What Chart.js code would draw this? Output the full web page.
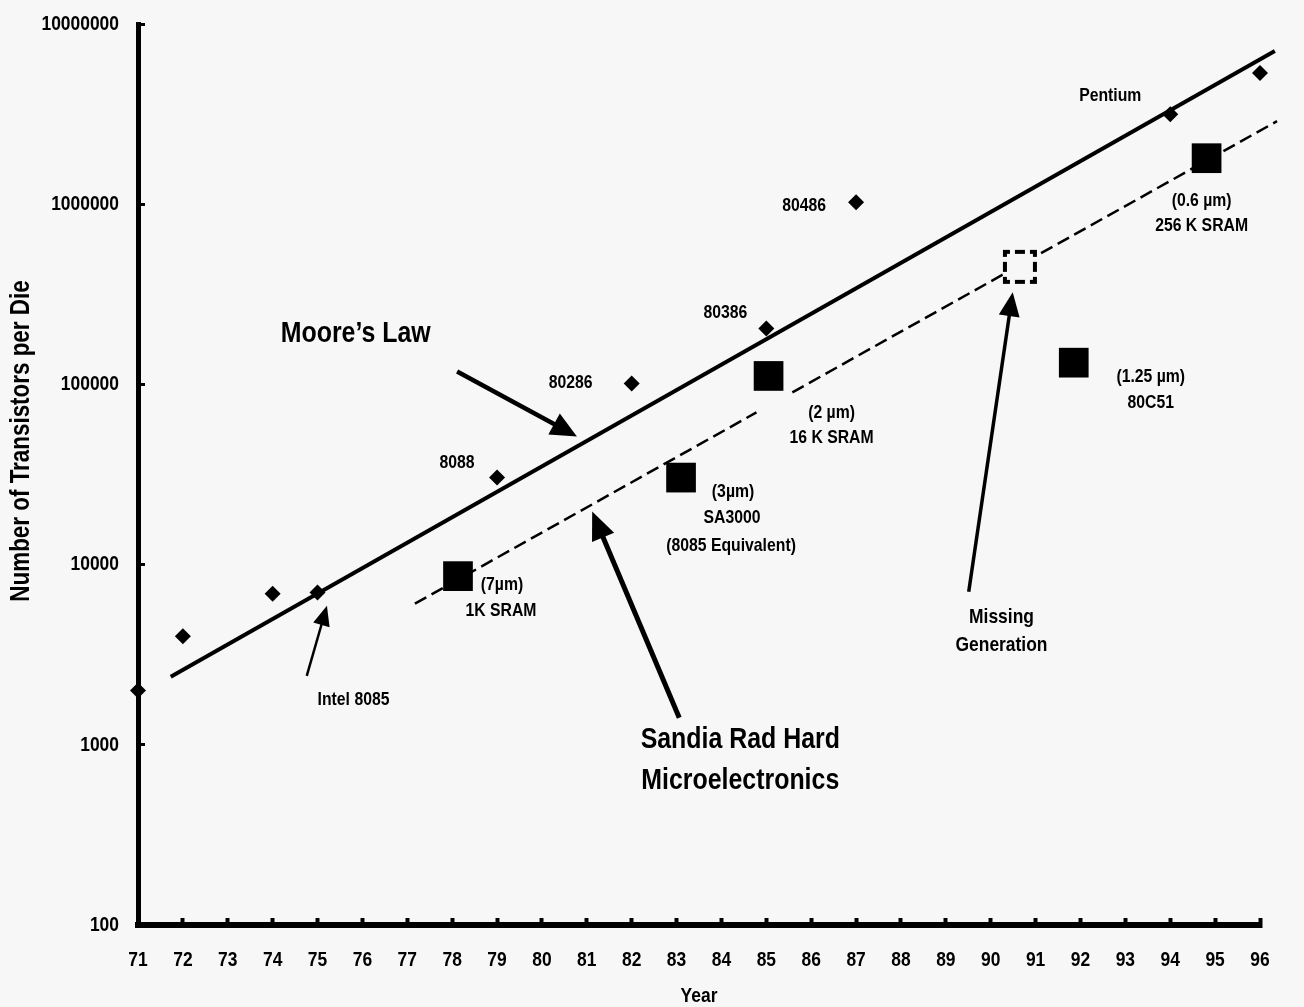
<!DOCTYPE html>
<html>
<head>
<meta charset="utf-8">
<script src="https://cdn.jsdelivr.net/npm/chart.js@4.4.1/dist/chart.umd.min.js"></script>
<style>
  html, body { margin: 0; padding: 0; background: #f7f7f7; }
  canvas { display: block; }
</style>
</head>
<body>
<canvas id="chart" width="1304" height="1007"></canvas>
<script>
// Intel microprocessors: year of introduction and transistors per die
const intelYears = [71, 72, 74, 75, 79, 82, 85, 87, 94, 96];
const intelTransistors = [2000, 4000, 6900, 7000, 30400, 101000, 204000, 1026000, 3160000, 5340000];
const intelNames = ['', '', '', 'Intel 8085', '8088', '80286', '80386', '80486', 'Pentium', ''];

// Sandia radiation-hardened parts
const sandiaYears = [78.13, 83.10, 85.05, 91.85, 94.81];
const sandiaTransistors = [8630, 30400, 111400, 132000, 1800000];
const sandiaFeature = ['(7µm)', '(3µm)', '(2 µm)', '(1.25 µm)', '(0.6 µm)'];
const sandiaNames = [['1K SRAM'], ['SA3000', '(8085 Equivalent)'], ['16 K SRAM'], ['80C51'], ['256 K SRAM']];

// the generation that was never built
const missingYears = [90.65];
const missingTransistors = [449000];

// trend lines
const mooreYears = [71.73, 96.33];
const mooreTransistors = [2386, 7080000];
const sandiaTrendYears = [77.17, 84.78, 85.2, 85.58, 96.38];
const sandiaTrendTransistors = [6070, 69900, null, 90300, 2890000];

// axis ticks
const yearTicks = [71, 72, 73, 74, 75, 76, 77, 78, 79, 80, 81, 82, 83, 84, 85, 86, 87, 88, 89, 90, 91, 92, 93, 94, 95, 96];
const decadeTicks = [100, 1000, 10000, 100000, 1000000, 10000000];

const FONT = "'Liberation Sans', Arial, sans-serif";
const BG = '#f7f7f7';
const CONDENSE = 0.83;   // horizontal squeeze giving a narrow bold face

// every text run is drawn condensed around its anchor point,
// so left / centre / right alignment keeps working
(function () {
  const proto = CanvasRenderingContext2D.prototype;
  const fill = proto.fillText;
  proto.fillText = function (text, x, y) {
    this.save();
    this.translate(x, y);
    this.scale(CONDENSE, 1);
    fill.call(this, text, 0, 0);
    this.restore();
  };
})();

// label placement (pixel offsets from the point they describe)
const intelLabelOffsets = { 3: [36, 107], 4: [-40, -15], 5: [-61, -1], 6: [-41, -16], 7: [-52, 4], 8: [-60, -18] };
const sandiaLabelOffsets = [
  [[44, 9], [43, 35]],
  [[52, 14], [51, 40], [50, 68]],
  [[63, 37], [63, 62]],
  [[77, 14], [77, 40]],
  [[-5, 43], [-5, 68]]
];

// free text and arrows, placed in data space: [year, log10(transistors)]
const notes = [
  { text: 'Moore’s Law', at: [74.18, 5.283], align: 'left', size: 30 },
  { text: 'Sandia Rad Hard', at: [84.42, 3.028], align: 'center', size: 30 },
  { text: 'Microelectronics', at: [84.42, 2.80], align: 'center', size: 30 },
  { text: 'Missing', at: [90.24, 3.706], align: 'center', size: 21 },
  { text: 'Generation', at: [90.24, 3.55], align: 'center', size: 21 }
];
const arrows = [
  { from: [78.11, 5.072], to: [80.78, 4.711], width: 4.5, head: [26, 24] },
  { from: [74.76, 3.383], to: [75.21, 3.772], width: 2.5, head: [20, 17] },
  { from: [83.06, 3.15], to: [81.12, 4.294], width: 5, head: [28, 24] },
  { from: [89.51, 3.85], to: [90.49, 5.511], width: 3.5, head: [24, 21] }
];

const pts = (xs, ys) => xs.map((x, i) => ({ x: x, y: ys[i] }));

// dashed outline square for the missing generation
function dashedSquare() {
  const s = 38, c = document.createElement('canvas');
  c.width = s; c.height = s;
  const g = c.getContext('2d');
  g.fillStyle = BG;
  g.fillRect(2, 2, 34, 34);
  g.fillStyle = '#000';
  const lw = 4, a = 2, b = 36;
  // corner brackets and a middle dash on every side
  const segs = [[a, a + 7], [a + 12, a + 22], [b - 7, b]];
  segs.forEach(([p, q]) => {
    g.fillRect(p, a, q - p, lw);
    g.fillRect(p, b - lw, q - p, lw);
    g.fillRect(a, p, lw, q - p);
    g.fillRect(b - lw, p, lw, q - p);
  });
  return c;
}

const background = {
  id: 'background',
  beforeDraw(chart) {
    const ctx = chart.ctx;
    ctx.save();
    ctx.fillStyle = BG;
    ctx.fillRect(0, 0, chart.width, chart.height);
    ctx.restore();
  }
};

function drawArrow(ctx, x1, y1, x2, y2, lw, hl, hw) {
  const ang = Math.atan2(y2 - y1, x2 - x1);
  const bx = x2 - hl * Math.cos(ang), by = y2 - hl * Math.sin(ang);
  ctx.lineWidth = lw;
  ctx.lineCap = 'butt';
  ctx.beginPath();
  ctx.moveTo(x1, y1);
  ctx.lineTo(bx + 2 * Math.cos(ang), by + 2 * Math.sin(ang));
  ctx.stroke();
  const nx = -Math.sin(ang) * hw / 2, ny = Math.cos(ang) * hw / 2;
  ctx.beginPath();
  ctx.moveTo(x2, y2);
  ctx.lineTo(bx + nx, by + ny);
  ctx.lineTo(bx - nx, by - ny);
  ctx.closePath();
  ctx.fill();
}

const annotations = {
  id: 'annotations',
  afterDatasetsDraw(chart) {
    const ctx = chart.ctx, xs = chart.scales.x, ys = chart.scales.y;
    const px = v => xs.getPixelForValue(v);
    const py = v => ys.getPixelForValue(v);
    const pyLog = l => ys.getPixelForValue(Math.pow(10, l));
    ctx.save();
    ctx.fillStyle = '#000';
    ctx.strokeStyle = '#000';
    ctx.textBaseline = 'middle';

    // processor names
    ctx.font = 'bold 19px ' + FONT;
    ctx.textAlign = 'center';
    intelNames.forEach((name, i) => {
      const off = intelLabelOffsets[i];
      if (!name || !off) return;
      ctx.fillText(name, px(intelYears[i]) + off[0], py(intelTransistors[i]) + off[1]);
    });

    // Sandia part descriptions
    sandiaYears.forEach((yr, i) => {
      const lines = [sandiaFeature[i]].concat(sandiaNames[i]);
      const x0 = px(yr), y0 = py(sandiaTransistors[i]);
      lines.forEach((t, k) => {
        const off = sandiaLabelOffsets[i][k];
        ctx.fillText(t, x0 + off[0], y0 + off[1]);
      });
    });

    // free text
    notes.forEach(n => {
      ctx.font = 'bold ' + n.size + 'px ' + FONT;
      ctx.textAlign = n.align;
      ctx.fillText(n.text, px(n.at[0]), pyLog(n.at[1]));
    });

    // arrows
    arrows.forEach(a => {
      drawArrow(ctx, px(a.from[0]), pyLog(a.from[1]), px(a.to[0]), pyLog(a.to[1]), a.width, a.head[0], a.head[1]);
    });

    // vertical axis title
    ctx.font = 'bold 27px ' + FONT;
    ctx.textAlign = 'center';
    ctx.translate(22, 441);
    ctx.rotate(-Math.PI / 2);
    ctx.fillText('Number of Transistors per Die', 0, 0);
    ctx.restore();
  }
};

new Chart(document.getElementById('chart'), {
  type: 'scatter',
  data: {
    datasets: [
      {
        label: 'Missing generation',
        data: pts(missingYears, missingTransistors),
        pointStyle: dashedSquare(),
        pointRadius: 18,
        clip: false,
        order: 0
      },
      {
        label: 'Sandia rad hard',
        data: pts(sandiaYears, sandiaTransistors),
        pointStyle: 'rect',
        pointRadius: 21,
        backgroundColor: '#000',
        borderColor: '#000',
        borderWidth: 0,
        clip: false,
        order: 0
      },
      {
        label: 'Intel',
        data: pts(intelYears, intelTransistors),
        pointStyle: 'rectRot',
        pointRadius: 8,
        backgroundColor: '#000',
        borderColor: '#000',
        borderWidth: 0,
        clip: false,
        order: 1
      },
      {
        label: 'Moore’s Law',
        data: pts(mooreYears, mooreTransistors),
        showLine: true,
        borderColor: '#000',
        borderWidth: 4,
        pointRadius: 0,
        clip: false,
        order: 2
      },
      {
        label: 'Sandia trend',
        data: pts(sandiaTrendYears, sandiaTrendTransistors),
        showLine: true,
        spanGaps: false,
        borderColor: '#000',
        borderWidth: 2.5,
        borderDash: [13, 6],
        pointRadius: 0,
        clip: false,
        order: 2
      }
    ]
  },
  options: {
    responsive: false,
    animation: false,
    events: [],
    layout: { padding: { top: 24, right: 44, left: 0, bottom: 0 } },
    plugins: { legend: { display: false }, tooltip: { enabled: false } },
    scales: {
      x: {
        type: 'linear',
        position: 'bottom',
        min: 71,
        max: 96,
        afterBuildTicks: s => { s.ticks = yearTicks.map(v => ({ value: v })); },
        afterFit: s => { s.height = 82; s.paddingLeft = 0; s.paddingRight = 0; },
        ticks: {
          autoSkip: false,
          maxRotation: 0,
          padding: 30,
          color: '#000',
          font: { family: FONT, size: 21, weight: 'bold' },
          callback: v => String(v)
        },
        grid: { display: true, drawOnChartArea: false, drawTicks: true, tickLength: -7, tickWidth: 4, tickColor: '#000' },
        border: { display: true, width: 6, color: '#000' },
        title: {
          display: true,
          text: 'Year',
          color: '#000',
          font: { family: FONT, size: 21, weight: 'bold' },
          padding: { top: 0, bottom: -2 }
        }
      },
      y: {
        type: 'logarithmic',
        position: 'left',
        min: 100,
        max: 10000000,
        afterBuildTicks: s => { s.ticks = decadeTicks.map(v => ({ value: v })); },
        afterFit: s => { s.width = 138; s.paddingTop = 0; s.paddingBottom = 0; },
        ticks: {
          padding: 26,
          color: '#000',
          font: { family: FONT, size: 21, weight: 'bold' },
          callback: v => String(Math.round(v))
        },
        grid: { display: true, drawOnChartArea: false, drawTicks: true, tickLength: -7, tickWidth: 3, tickColor: '#000' },
        border: { display: true, width: 5, color: '#000' }
      }
    }
  },
  plugins: [background, annotations]
});
</script>
</body>
</html>
